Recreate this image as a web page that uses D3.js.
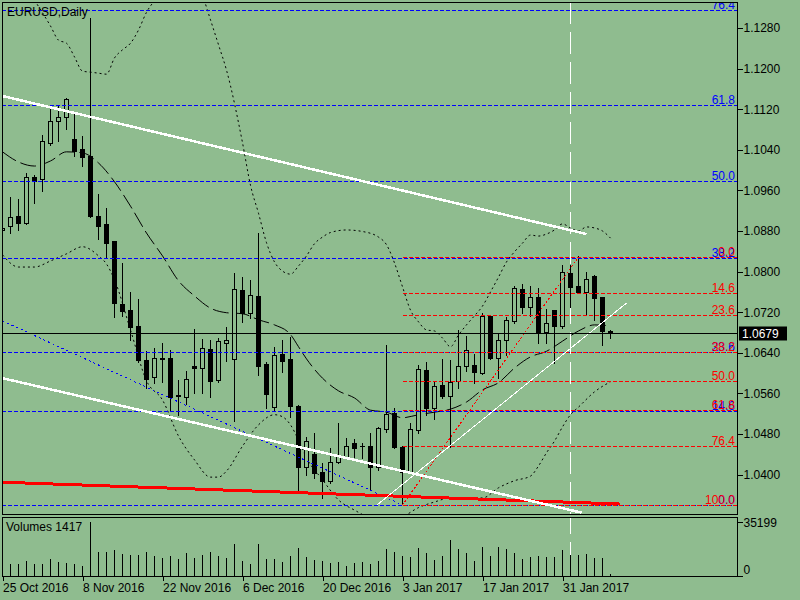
<!DOCTYPE html>
<html>
<head>
<meta charset="utf-8">
<script src="https://cdn.jsdelivr.net/npm/d3@7"></script>
<style>
  body { margin: 0; background: #8fbc8f; }
  svg { display: block; }
  text { font-family: "Liberation Sans", Arial, sans-serif; font-size: 12px; }
</style>
</head>
<body>
<svg width="800" height="600"></svg>
<script>
// EURUSD daily, 25 Oct 2016 .. 8 Feb 2017 (bar index 0..76)
const opens  = [1.0882,1.0890,1.0910,1.0896,1.0986,1.0982,1.1053,1.1097,1.1105,1.1061,
                1.1041,1.1028,1.0910,1.0894,1.0860,1.0736,1.0724,1.0693,1.0626,1.0592,
                1.0630,1.0630,1.0555,1.0553,1.0614,1.0610,1.0647,1.0586,1.0659,1.0628,
                1.0764,1.0718,1.0752,1.0618,1.0533,1.0638,1.0628,1.0535,1.0415,1.0441,
                1.0405,1.0388,1.0425,1.0435,1.0462,1.0456,1.0456,1.0415,1.0490,1.0521,
                1.0454,1.0405,1.0488,1.0606,1.0531,1.0577,1.0555,1.0584,1.0614,1.0616,
                1.0600,1.0712,1.0630,1.0665,1.0703,1.0766,1.0730,1.0750,1.0681,1.0724,
                1.0693,1.0797,1.0772,1.0760,1.0791,1.0750,1.0683];
const highs  = [1.0890,1.0947,1.0943,1.0994,1.0990,1.1069,1.1124,1.1126,1.1142,1.1112,
                1.1067,1.1300,1.0953,1.0925,1.0860,1.0817,1.0760,1.0746,1.0644,1.0649,
                1.0659,1.0646,1.0586,1.0604,1.0687,1.0667,1.0665,1.0669,1.0691,1.0797,
                1.0789,1.0783,1.0876,1.0622,1.0651,1.0665,1.0671,1.0537,1.0474,1.0482,
                1.0423,1.0453,1.0502,1.0472,1.0470,1.0462,1.0482,1.0494,1.0655,1.0531,
                1.0456,1.0502,1.0616,1.0622,1.0582,1.0628,1.0626,1.0685,1.0673,1.0638,
                1.0718,1.0714,1.0677,1.0710,1.0772,1.0776,1.0772,1.0768,1.0726,1.0724,
                1.0813,1.0813,1.0831,1.0799,1.0793,1.0750,1.0685];
const lows   = [1.0878,1.0876,1.0882,1.0894,1.0935,1.0959,1.1049,1.1057,1.1081,1.1028,
                1.1008,1.0908,1.0864,1.0829,1.0710,1.0712,1.0665,1.0622,1.0571,1.0580,
                1.0582,1.0525,1.0517,1.0539,1.0561,1.0561,1.0553,1.0582,1.0624,1.0506,
                1.0701,1.0709,1.0596,1.0531,1.0527,1.0602,1.0514,1.0366,1.0399,1.0393,
                1.0354,1.0384,1.0423,1.0433,1.0435,1.0433,1.0372,1.0409,1.0484,1.0452,
                1.0344,1.0403,1.0482,1.0517,1.0510,1.0551,1.0454,1.0571,1.0604,1.0581,
                1.0598,1.0628,1.0590,1.0636,1.0699,1.0718,1.0712,1.0659,1.0659,1.0620,
                1.0689,1.0730,1.0758,1.0714,1.0705,1.0655,1.0669];
const closes = [1.0886,1.0908,1.0896,1.0986,1.0978,1.1057,1.1097,1.1105,1.1140,1.1038,
                1.1026,1.0910,1.0890,1.0856,1.0738,1.0722,1.0691,1.0626,1.0588,1.0630,
                1.0628,1.0553,1.0556,1.0588,1.0610,1.0649,1.0584,1.0663,1.0665,1.0766,
                1.0718,1.0754,1.0614,1.0559,1.0636,1.0624,1.0535,1.0415,1.0466,1.0403,
                1.0388,1.0425,1.0439,1.0456,1.0452,1.0456,1.0415,1.0492,1.0519,1.0454,
                1.0405,1.0490,1.0608,1.0531,1.0575,1.0555,1.0582,1.0614,1.0645,1.0602,
                1.0712,1.0630,1.0665,1.0705,1.0768,1.0730,1.0750,1.0681,1.0699,1.0693,
                1.0799,1.0770,1.0760,1.0785,1.0748,1.0683,1.0679];
const volumes = [7780,7760,7790,9720,7770,7800,11020,8880,8230,7580,
                 6480,35199,15750,15740,17040,14260,13610,13600,15750,12770,
                 11860,12960,10820,14900,11860,13610,15750,12960,11860,20740,
                 9720,7780,20740,10820,11020,9270,12960,18140,12510,10560,
                 9720,8420,9070,6480,8420,9070,7780,9720,17690,15550,
                 12960,12310,18140,14900,10370,12960,23330,17500,14900,9720,
                 18790,12960,18790,17500,14900,11020,12310,12960,12310,12310,
                 16850,13610,13610,14260,11660,11660,1417];

const dateTickBars = [0, 10, 20, 30, 40, 50, 60, 70];
const dateTickLabels = ["25 Oct 2016", "8 Nov 2016", "22 Nov 2016", "6 Dec 2016",
                        "20 Dec 2016", "3 Jan 2017", "17 Jan 2017", "31 Jan 2017"];
const priceTicks = [1.1280, 1.1200, 1.1120, 1.1040, 1.0960, 1.0880,
                    1.0800, 1.0720, 1.0640, 1.0560, 1.0480, 1.0400];
const volumeMax = 35199;

// Bollinger bands as [bar, price]
const bbUpper = [[3,1.1360],[4,1.1335],[5,1.1310],[6,1.1284],[7,1.1256],[8,1.1250],[9,1.1223],
  [10,1.1195],[11,1.1193],[12,1.1191],[13,1.1189],[14,1.1221],[15,1.1237],[16,1.1250],
  [17,1.1276],[18,1.1311],[19,1.1335],[21,1.1400],[23,1.1420],[25,1.1345],[26,1.1296],
  [27,1.1247],[28,1.1197],[30,1.1054],[31,1.0970],[32,1.0915],[33,1.0857],[34,1.0819],
  [35,1.0801],[36,1.0795],[37,1.0811],[38,1.0831],[39,1.0855],[40,1.0868],[41,1.0877],
  [43,1.0882],[45,1.0879],[47,1.0868],[48,1.0853],[49,1.0817],[50,1.0770],[51,1.0724],
  [52,1.0701],[53,1.0685],[54,1.0683],[55,1.0669],[56,1.0652],[57,1.0675],[58,1.0695],
  [59,1.0713],[60,1.0732],[61,1.0760],[62,1.0789],[63,1.0819],[64,1.0839],[65,1.0856],
  [66,1.0872],[67,1.0870],[68,1.0874],[69,1.0882],[70,1.0894],[71,1.0886],[72,1.0880],
  [73,1.0888],[74,1.0886],[75,1.0880],[76,1.0866]];
const bbMiddle = [[0,1.1036],[2,1.1016],[4,1.1008],[6,1.1018],[8,1.1036],[10,1.1034],
  [12,1.1014],[14,1.0977],[16,1.0929],[18,1.0876],[20,1.0831],[22,1.0782],[24,1.0752],
  [26,1.0728],[28,1.0719],[30,1.0717],[32,1.0705],[34,1.0695],[36,1.0676],[37,1.0652],
  [38,1.0628],[40,1.0590],[42,1.0565],[44,1.0551],[46,1.0527],[48,1.0523],[50,1.0512],
  [52,1.0518],[54,1.0523],[56,1.0529],[58,1.0543],[60,1.0567],[62,1.0581],[64,1.0610],
  [66,1.0632],[68,1.0643],[70,1.0663],[72,1.0683],[74,1.0695],[76,1.0693]];
const bbLower = [[0,1.0833],[2,1.0809],[4,1.0809],[6,1.0821],[8,1.0835],[10,1.0849],
  [12,1.0831],[13,1.0815],[14,1.0784],[16,1.0685],[18,1.0585],[20,1.0547],[22,1.0476],
  [24,1.0429],[26,1.0395],[27,1.0395],[28,1.0407],[30,1.0456],[32,1.0498],[34,1.0518],
  [35,1.0514],[36,1.0498],[37,1.0468],[38,1.0433],[40,1.0390],[42,1.0350],[44,1.0330],
  [46,1.0315],[48,1.0311],[50,1.0317],[52,1.0335],[54,1.0346],[56,1.0354],[58,1.0354],
  [60,1.0354],[62,1.0374],[64,1.0388],[66,1.0397],[67,1.0417],[68,1.0443],[69,1.0466],
  [70,1.0494],[71,1.0518],[72,1.0533],[74,1.0563],[76,1.0583]];

// Fibonacci retracements
const fibLevels = [0, 14.6, 23.6, 38.2, 50.0, 61.8, 76.4, 100.0];
const blueFibLow = 1.0340, blueFibHigh = 1.1616;   // 0 at low, 100 at high
const redFibHigh = 1.0829, redFibLow = 1.0340;     // 0 at high, 100 at low
const redFibStartBar = 50;

// trend lines as [bar, price] end points
const whiteUpper = [[0, 1.1146], [73, 1.0874]];
const whiteLower = [[0, 1.0590], [72.4, 1.0325]];
const whiteThin  = [[46.8, 1.0340], [78, 1.0738]];
const redTrend   = [[0, 1.0385], [77.2, 1.0342]];
const blueFibBase = [[0, 1.0703], [50, 1.0340]];
const redFibBase  = [[50, 1.0340], [72, 1.0829]];
const vLineBar = 71;
const lastPrice = 1.0679;

const bg = "#8fbc8f";
const left = 2, right = 737, mainTop = 2, mainBottom = 514, volTop = 517, volBottom = 576;

const svg = d3.select("svg");
svg.append("rect").attr("width", 800).attr("height", 600).attr("fill", bg);

const x = d3.scaleLinear().domain([0, 76]).range([2.5, 610.5]);
const y = d3.scaleLinear().domain([1.0400, 1.1280]).range([474.6, 28]);
const vy = d3.scaleLinear().domain([0, volumeMax]).range([volBottom, 522]);
const px = v => Math.round(v) + 0.5;

const defs = svg.append("defs");
defs.append("clipPath").attr("id", "clipMain").append("rect")
    .attr("x", left).attr("y", mainTop).attr("width", right - left).attr("height", mainBottom - mainTop);
defs.append("clipPath").attr("id", "clipVol").append("rect")
    .attr("x", left).attr("y", volTop).attr("width", right - left).attr("height", volBottom - volTop);

const main = svg.append("g").attr("clip-path", "url(#clipMain)").attr("shape-rendering", "crispEdges");
const vol = svg.append("g").attr("clip-path", "url(#clipVol)").attr("shape-rendering", "crispEdges");

// vertical separator line (both panels)
[main, vol].forEach(g => {
    g.append("line")
        .attr("x1", x(vLineBar)).attr("x2", x(vLineBar))
        .attr("y1", mainTop).attr("y2", volBottom)
        .attr("stroke", "#fff").attr("stroke-dasharray", "22,8");
});

// bollinger bands
const bandLine = d3.line().x(d => x(d[0])).y(d => y(d[1])).curve(d3.curveMonotoneX);
[[bbUpper, "2,3"], [bbMiddle, "16,5"], [bbLower, "2,3"]].forEach(([pts, dash]) => {
    main.append("path").attr("d", bandLine(pts))
        .attr("fill", "none").attr("stroke", "#000").attr("stroke-width", 1)
        .attr("stroke-dasharray", dash).attr("shape-rendering", "auto");
});

// candles
const bars = d3.range(opens.length);
const candle = main.selectAll("g.candle").data(bars).join("g").attr("class", "candle");
candle.append("line")
    .attr("x1", i => x(i)).attr("x2", i => x(i))
    .attr("y1", i => Math.round(y(highs[i]))).attr("y2", i => Math.round(y(lows[i])) + 1)
    .attr("stroke", "#000");
candle.each(function(i){
    const g = d3.select(this);
    const top = Math.round(y(Math.max(opens[i], closes[i])));
    const bot = Math.round(y(Math.min(opens[i], closes[i])));
    if (bot - top < 1){
        g.append("line").attr("x1", x(i) - 2.5).attr("x2", x(i) + 2.5)
            .attr("y1", top + 0.5).attr("y2", top + 0.5).attr("stroke", "#000");
        return;
    }
    g.append("rect")
        .attr("x", x(i) - 2).attr("width", 4)
        .attr("y", top + 0.5).attr("height", bot - top)
        .attr("fill", closes[i] >= opens[i] ? bg : "#000")
        .attr("stroke", "#000");
});

// fibo levels
function fibLabel(g, lvl, yy, color){
    g.append("text").attr("x", right - 2).attr("y", yy - 2)
        .attr("text-anchor", "end").attr("fill", color)
        .text(d3.format(".1f")(lvl));
}
fibLevels.forEach(lvl => {
    const p = blueFibLow + lvl / 100 * (blueFibHigh - blueFibLow);
    const yy = px(y(p));
    main.append("line").attr("x1", left).attr("x2", right).attr("y1", yy).attr("y2", yy)
        .attr("stroke", "#0000ff").attr("stroke-dasharray", "4,2");
    fibLabel(main, lvl, yy, "#0000ff");
});
fibLevels.forEach(lvl => {
    const p = redFibHigh - lvl / 100 * (redFibHigh - redFibLow);
    const yy = px(y(p));
    main.append("line").attr("x1", x(redFibStartBar)).attr("x2", right).attr("y1", yy).attr("y2", yy)
        .attr("stroke", "#ff0000").attr("stroke-dasharray", "4,2");
    fibLabel(main, lvl, yy, "#ff0000");
});

// trend lines
const tl = d3.line().x(d => x(d[0])).y(d => y(d[1]));
function trend(pts, color, width, dash){
    const p = main.append("path").attr("d", tl(pts)).attr("fill", "none")
        .attr("stroke", color).attr("stroke-width", width);
    if (dash) p.attr("stroke-dasharray", dash);
}
trend(blueFibBase, "#0000ff", 1, "2,3");
trend(redFibBase, "#ff0000", 1, "2,2");
trend(redTrend, "#ff0000", 3);
trend(whiteUpper, "#fff", 2.5);
trend(whiteLower, "#fff", 2.5);
trend(whiteThin, "#fff", 1);

// last price line
main.append("line").attr("x1", left).attr("x2", right)
    .attr("y1", px(y(lastPrice))).attr("y2", px(y(lastPrice))).attr("stroke", "#000");

// volumes
vol.selectAll("line.v").data(bars).join("line").attr("class", "v")
    .attr("x1", i => x(i)).attr("x2", i => x(i))
    .attr("y1", vy(0)).attr("y2", i => Math.round(vy(volumes[i])))
    .attr("stroke", "#000");

// frames
const frames = svg.append("g").attr("fill", "none").attr("stroke", "#000").attr("shape-rendering", "crispEdges");
frames.append("rect").attr("x", left + 0.5).attr("y", mainTop + 0.5)
    .attr("width", right - left).attr("height", mainBottom - mainTop);
frames.append("rect").attr("x", left + 0.5).attr("y", volTop + 0.5)
    .attr("width", right - left).attr("height", volBottom - volTop);

// price axis
const yAxis = svg.append("g").attr("transform", `translate(${right + 0.5},0)`)
    .call(d3.axisRight(y).tickValues(priceTicks).tickFormat(d3.format(".4f")).tickSize(5).tickPadding(1))
    .attr("shape-rendering", "crispEdges");
yAxis.select(".domain").remove();
yAxis.selectAll("text").attr("font-family", "Liberation Sans, Arial, sans-serif").attr("font-size", 12).attr("fill", "#000");

// current price tag
const tagY = px(y(lastPrice));
svg.append("rect").attr("x", 739).attr("y", tagY - 7).attr("width", 48).attr("height", 14).attr("fill", "#000");
svg.append("text").attr("x", 742).attr("y", tagY + 4.5).attr("fill", "#fff").text(d3.format(".4f")(lastPrice));

// volume axis
const vAxis = svg.append("g").attr("transform", `translate(${right + 0.5},0)`)
    .call(d3.axisRight(vy).tickValues([0, volumeMax]).tickFormat(d3.format("d")).tickSize(5).tickPadding(1))
    .attr("shape-rendering", "crispEdges");
vAxis.select(".domain").remove();
vAxis.selectAll("text").attr("font-family", "Liberation Sans, Arial, sans-serif").attr("font-size", 12)
    .attr("fill", "#000").attr("dy", d => d === 0 ? "-0.25em" : "0.4em");

// date axis
const xAxis = svg.append("g").attr("transform", `translate(0,${volBottom + 0.5})`)
    .call(d3.axisBottom(x).tickValues(dateTickBars).tickFormat((d, k) => dateTickLabels[k]).tickSize(4).tickPadding(3))
    .attr("shape-rendering", "crispEdges");
xAxis.select(".domain").remove();
xAxis.selectAll("text").attr("text-anchor", "start").attr("font-family", "Liberation Sans, Arial, sans-serif")
    .attr("font-size", 12).attr("fill", "#000");

// titles
svg.append("text").attr("x", 7).attr("y", 16).attr("fill", "#000").text("EURUSD,Daily");
svg.append("text").attr("x", 6).attr("y", 531).attr("fill", "#000")
    .text("Volumes " + volumes[volumes.length - 1]);
</script>
</body>
</html>
